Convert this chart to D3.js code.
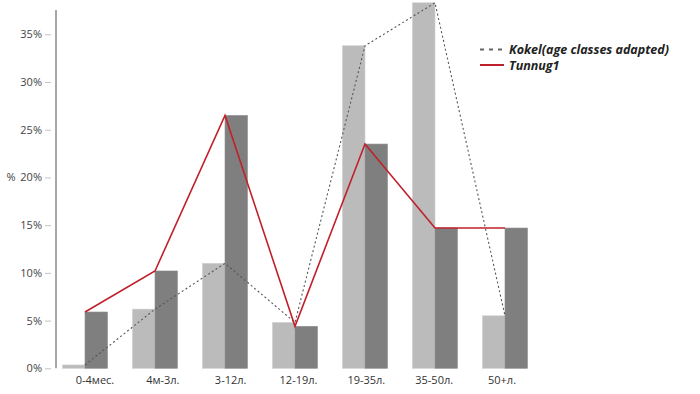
<!DOCTYPE html>
<html><head><meta charset="utf-8">
<script src="https://cdn.jsdelivr.net/npm/d3@7"></script>
<style>html,body{margin:0;padding:0;background:#fff;}svg{display:block;}</style>
</head><body>
<script>
const categories = ["0-4мес.", "4м-3л.", "3-12л.", "12-19л.", "19-35л.", "35-50л.", "50+л."];
const kokel = [0.35, 6.2, 11.0, 4.8, 33.8, 38.3, 5.5];
const tunnug = [5.9, 10.2, 26.5, 4.4, 23.5, 14.7, 14.7];
const yTicks = [0, 5, 10, 15, 20, 25, 30, 35];
const seriesNames = ["Kokel(age classes adapted)", "Tunnug1"];

const W = 700, H = 394;
const svg = d3.select("body").append("svg").attr("width", W).attr("height", H);
const font = "'Open Sans', 'Noto Sans', sans-serif";

const y = d3.scaleLinear().domain([0, 35]).range([368.3, 34.3]);
const x = d3.scaleBand().domain(categories).range([50, 540]).paddingInner(25/70).paddingOuter(12.5/70);
const x1 = d3.scaleBand().domain(seriesNames).range([0, x.bandwidth()]);
const xl = d3.scalePoint().domain(categories).range([95, 502]);
const cx = c => x(c) + x.bandwidth() / 2;

// bars
const colors = ["#bbbbbb", "#7f7f7f"];
const stroke = ["#cfcfcf", "#8f8f8f"];
[kokel, tunnug].forEach((vals, si) => {
  svg.append("g").selectAll("rect").data(categories).join("rect")
    .attr("x", c => x(c) + x1(seriesNames[si]))
    .attr("y", (c, i) => y(vals[i]))
    .attr("width", x1.bandwidth())
    .attr("height", (c, i) => y(0) - y(vals[i]))
    .attr("fill", colors[si])
    .attr("stroke", stroke[si]).attr("stroke-width", 0.6);
});

// y axis
const ax = svg.append("g").attr("transform", "translate(56,0)");
ax.append("line").attr("x1", 0).attr("x2", 0).attr("y1", 10).attr("y2", y(0))
  .attr("stroke", "#8a8a8a").attr("stroke-width", 1.5);
const yAxis = d3.axisLeft(y).tickValues(yTicks).tickFormat(d => d + "%").tickSize(6).tickPadding(2);
const g = svg.append("g").attr("transform", "translate(51,0)").call(yAxis);
g.select(".domain").remove();
g.selectAll(".tick line").attr("stroke", "#c4c4c4").attr("stroke-width", 1).attr("x2", 0).attr("x1", -6);
g.selectAll(".tick text").attr("x", -9).attr("fill", "#444").attr("font-family", font).attr("font-size", 11);

svg.append("text").attr("x", 11).attr("y", 181).attr("text-anchor", "middle")
  .attr("font-family", font).attr("font-size", 11).attr("fill", "#444").text("%");

// x labels
svg.append("g").selectAll("text").data(categories).join("text")
  .attr("x", c => xl(c)).attr("y", 384).attr("text-anchor", "middle")
  .attr("font-family", font).attr("font-size", 11).attr("fill", "#333").text(c => c);

// lines
const line = vals => d3.line().x((c, i) => cx(c)).y((c, i) => y(vals[i]))(categories);
svg.append("path").attr("d", line(kokel)).attr("fill", "none")
  .attr("stroke", "#555").attr("stroke-width", 1.1).attr("stroke-dasharray", "2,2.5");
svg.append("path").attr("d", line(tunnug)).attr("fill", "none")
  .attr("stroke", "#c0202c").attr("stroke-width", 1.6);

// legend
const lg = svg.append("g");
lg.append("line").attr("x1", 480).attr("x2", 503).attr("y1", 49.5).attr("y2", 49.5)
  .attr("stroke", "#666").attr("stroke-width", 2).attr("stroke-dasharray", "4,5");
lg.append("line").attr("x1", 480).attr("x2", 504).attr("y1", 65).attr("y2", 65)
  .attr("stroke", "#c0202c").attr("stroke-width", 2);
lg.selectAll("text").data(seriesNames).join("text")
  .attr("x", 509).attr("y", (d, i) => 54 + i * 15.5)
  .attr("font-family", font).attr("font-size", 12.5).attr("font-weight", "bold")
  .attr("font-style", "italic").attr("fill", "#222").text(d => d);
</script>
</body></html>
